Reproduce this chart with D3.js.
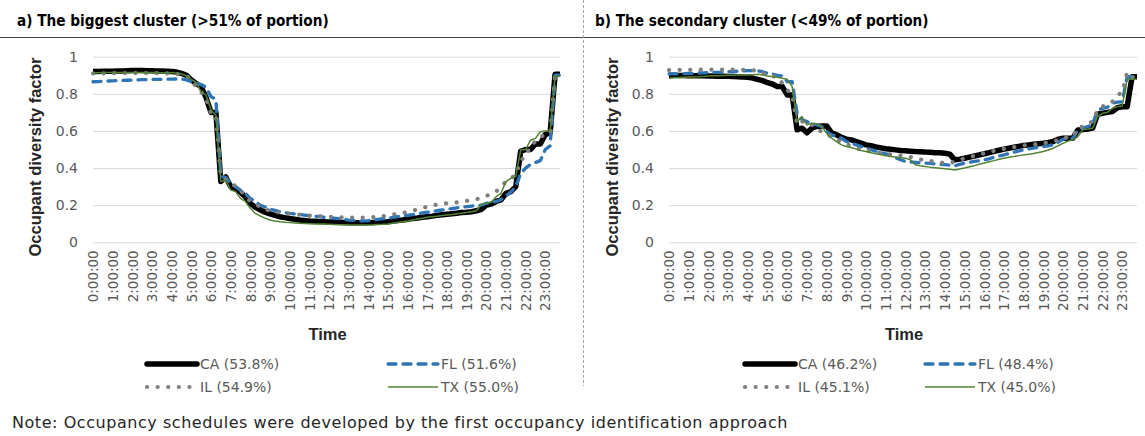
<!DOCTYPE html>
<html>
<head>
<meta charset="utf-8">
<script src="https://cdn.jsdelivr.net/npm/d3@7"></script>
<style>
  body { margin: 0; background: #fff; }
  svg { display: block; }
  .tick text { fill: #595959; }
</style>
</head>
<body>
<svg id="chart" width="1145" height="436"></svg>
<script>
// Hour labels shown on the time axis (one every fourth 15-minute slot)
const hourLabels = ["0:00:00","1:00:00","2:00:00","3:00:00","4:00:00","5:00:00","6:00:00","7:00:00",
  "8:00:00","9:00:00","10:00:00","11:00:00","12:00:00","13:00:00","14:00:00","15:00:00",
  "16:00:00","17:00:00","18:00:00","19:00:00","20:00:00","21:00:00","22:00:00","23:00:00"];
const yTicks = [0, 0.2, 0.4, 0.6, 0.8, 1];

// Occupant diversity factor per 15-minute slot, biggest cluster
const caBig = [0.92,0.92,0.921,0.922, 0.922,0.923,0.923,0.924, 0.925,0.925,0.925,0.924, 0.924,0.923,0.923,0.922,
  0.92,0.917,0.91,0.90, 0.875,0.856,0.838,0.78, 0.70,0.70,0.327,0.352, 0.30,0.29,0.27,0.245,
  0.21,0.19,0.175,0.162, 0.153,0.145,0.138,0.133, 0.128,0.124,0.12,0.118, 0.115,0.114,0.112,0.111,
  0.11,0.109,0.108,0.107, 0.106,0.106,0.105,0.105, 0.106,0.107,0.108,0.109, 0.111,0.114,0.117,0.12,
  0.124,0.128,0.131,0.135, 0.138,0.141,0.145,0.148, 0.151,0.154,0.157,0.16, 0.162,0.165,0.17,0.178,
  0.20,0.206,0.22,0.228, 0.264,0.273,0.30,0.49, 0.50,0.50,0.53,0.53, 0.58,0.59,0.906,0.906];
const flBig = [0.865,0.866,0.868,0.869, 0.87,0.871,0.872,0.873, 0.874,0.875,0.876,0.877, 0.878,0.878,0.878,0.879,
  0.879,0.88,0.88,0.875, 0.865,0.856,0.85,0.835, 0.785,0.77,0.355,0.35, 0.318,0.30,0.28,0.264,
  0.237,0.22,0.20,0.19, 0.178,0.172,0.165,0.16, 0.156,0.153,0.15,0.147, 0.144,0.141,0.138,0.135,
  0.133,0.13,0.127,0.123, 0.12,0.118,0.116,0.115, 0.117,0.12,0.124,0.127, 0.13,0.134,0.138,0.141,
  0.145,0.149,0.154,0.158, 0.162,0.166,0.17,0.174, 0.178,0.182,0.186,0.189, 0.192,0.195,0.198,0.20,
  0.21,0.215,0.22,0.23, 0.25,0.27,0.30,0.37, 0.40,0.42,0.43,0.44, 0.50,0.52,0.90,0.90];
const ilBig = [0.91,0.91,0.91,0.91, 0.911,0.911,0.912,0.912, 0.912,0.912,0.912,0.912, 0.911,0.911,0.91,0.91,
  0.91,0.907,0.905,0.895, 0.878,0.838,0.81,0.775, 0.695,0.686,0.354,0.336, 0.318,0.303,0.282,0.246,
  0.22,0.206,0.192,0.178, 0.17,0.165,0.16,0.156, 0.153,0.151,0.149,0.146, 0.144,0.142,0.141,0.139,
  0.138,0.137,0.135,0.134, 0.133,0.133,0.133,0.133, 0.135,0.136,0.138,0.141, 0.145,0.149,0.153,0.158,
  0.163,0.17,0.178,0.185, 0.192,0.198,0.203,0.207, 0.21,0.213,0.215,0.219, 0.223,0.227,0.232,0.24,
  0.25,0.26,0.273,0.30, 0.327,0.345,0.363,0.443, 0.46,0.524,0.542,0.57, 0.578,0.587,0.905,0.905];
const txBig = [0.914,0.914,0.915,0.915, 0.915,0.915,0.915,0.915, 0.915,0.915,0.915,0.915, 0.915,0.915,0.914,0.914,
  0.914,0.912,0.907,0.897, 0.878,0.86,0.81,0.794, 0.713,0.686,0.327,0.336, 0.282,0.273,0.237,0.22,
  0.183,0.156,0.142,0.13, 0.12,0.115,0.111,0.108, 0.106,0.104,0.102,0.101, 0.10,0.099,0.098,0.098,
  0.097,0.096,0.095,0.094, 0.093,0.093,0.093,0.093, 0.093,0.094,0.096,0.097, 0.099,0.103,0.107,0.111,
  0.115,0.12,0.125,0.13, 0.135,0.138,0.141,0.144, 0.147,0.15,0.154,0.157, 0.16,0.165,0.17,0.205,
  0.21,0.215,0.246,0.264, 0.327,0.345,0.354,0.497, 0.50,0.55,0.56,0.596, 0.60,0.60,0.895,0.895];

// Occupant diversity factor per 15-minute slot, secondary cluster
const caSec = [0.90,0.90,0.899,0.899, 0.898,0.898,0.897,0.897, 0.896,0.896,0.895,0.895, 0.894,0.893,0.892,0.891,
  0.889,0.885,0.878,0.871, 0.86,0.853,0.839,0.839, 0.794,0.794,0.606,0.615, 0.59,0.615,0.624,0.627,
  0.627,0.59,0.579,0.566, 0.556,0.552,0.543,0.534, 0.525,0.52,0.514,0.509, 0.504,0.501,0.498,0.495,
  0.493,0.491,0.489,0.488, 0.486,0.485,0.483,0.482, 0.48,0.475,0.444,0.448, 0.453,0.459,0.465,0.471,
  0.477,0.483,0.49,0.496, 0.502,0.507,0.512,0.517, 0.522,0.525,0.528,0.531, 0.534,0.538,0.543,0.556,
  0.561,0.56,0.561,0.605, 0.607,0.61,0.615,0.69, 0.695,0.70,0.705,0.725, 0.73,0.73,0.892,0.892];
const flSec = [0.907,0.908,0.908,0.909, 0.91,0.911,0.912,0.913, 0.914,0.915,0.916,0.917, 0.919,0.92,0.922,0.923,
  0.925,0.925,0.924,0.919, 0.91,0.907,0.90,0.896, 0.866,0.866,0.695,0.66, 0.65,0.64,0.633,0.624,
  0.597,0.579,0.57,0.561, 0.543,0.534,0.525,0.516, 0.507,0.499,0.491,0.484, 0.477,0.47,0.455,0.445,
  0.435,0.433,0.431,0.429, 0.427,0.425,0.422,0.42, 0.418,0.415,0.412,0.42, 0.427,0.431,0.436,0.44,
  0.444,0.45,0.458,0.465, 0.471,0.478,0.485,0.492, 0.498,0.503,0.508,0.512, 0.516,0.52,0.525,0.54,
  0.556,0.558,0.561,0.606, 0.615,0.624,0.633,0.713, 0.722,0.728,0.75,0.755, 0.757,0.892,0.892,0.89];
const ilSec = [0.928,0.928,0.929,0.929, 0.929,0.93,0.93,0.93, 0.93,0.93,0.93,0.93, 0.93,0.93,0.929,0.929,
  0.928,0.927,0.925,0.914, 0.90,0.895,0.892,0.857, 0.821,0.794,0.633,0.65, 0.65,0.633,0.606,0.597,
  0.588,0.566,0.552,0.543, 0.529,0.518,0.507,0.501, 0.495,0.49,0.486,0.481, 0.477,0.474,0.471,0.468,
  0.466,0.46,0.453,0.447, 0.441,0.438,0.434,0.43, 0.427,0.427,0.435,0.444, 0.453,0.46,0.466,0.473,
  0.48,0.487,0.493,0.499, 0.504,0.509,0.513,0.518, 0.522,0.525,0.527,0.531, 0.534,0.538,0.543,0.552,
  0.561,0.566,0.57,0.62, 0.622,0.642,0.65,0.713, 0.731,0.75,0.758,0.794, 0.806,0.917,0.89,0.89];
const txSec = [0.884,0.886,0.888,0.889, 0.89,0.891,0.892,0.894, 0.896,0.897,0.898,0.899, 0.90,0.90,0.901,0.901,
  0.901,0.903,0.905,0.902, 0.896,0.892,0.889,0.884, 0.878,0.839,0.65,0.677, 0.633,0.642,0.638,0.624,
  0.588,0.561,0.543,0.525, 0.516,0.511,0.502,0.495, 0.489,0.483,0.477,0.472, 0.466,0.462,0.459,0.456,
  0.453,0.444,0.418,0.413, 0.409,0.405,0.402,0.399, 0.396,0.393,0.39,0.395, 0.40,0.407,0.413,0.42,
  0.427,0.434,0.44,0.447, 0.453,0.458,0.462,0.467, 0.471,0.474,0.478,0.484, 0.489,0.497,0.507,0.52,
  0.534,0.545,0.552,0.57, 0.606,0.61,0.615,0.677, 0.695,0.70,0.722,0.731, 0.735,0.878,0.878,0.878];

const bigNames = ["CA (53.8%)", "FL (51.6%)", "IL (54.9%)", "TX (55.0%)"];
const secNames = ["CA (46.2%)", "FL (48.4%)", "IL (45.1%)", "TX (45.0%)"];

// Line style per state
const styles = [
  { stroke: "#000000", width: 5.5, dash: null, cap: "butt" },
  { stroke: "#2E75B6", width: 3.3, dash: "8,7", cap: "round" },
  { stroke: "#7F7F7F", width: 4.2, dash: "0.1,10.5", cap: "round" },
  { stroke: "#548235", width: 1.5, dash: null, cap: "butt" }
];

const panels = [
  { title: "a) The biggest cluster (>51% of portion)", titleX: 17, x0: 93, x1: 560, yTitleX: 41,
    legendX: [147, 388], names: bigNames, values: [caBig, flBig, ilBig, txBig] },
  { title: "b) The secondary cluster (<49% of portion)", titleX: 595, x0: 669, x1: 1137, yTitleX: 618,
    legendX: [745, 925], names: secNames, values: [caSec, flSec, ilSec, txSec] }
];

const svg = d3.select("#chart");
const yTop = 56.7, yBottom = 242.3;
const tickFont = "DejaVu Sans, sans-serif";
const labelFont = "Liberation Sans, Arial, sans-serif";

// Header rule and panel divider
svg.append("line").attr("x1", 0).attr("x2", 1145).attr("y1", 37.5).attr("y2", 37.5)
  .attr("stroke", "#404040").attr("stroke-width", 1);
svg.append("line").attr("x1", 583.5).attr("x2", 583.5).attr("y1", 0).attr("y2", 386)
  .attr("stroke", "#A6A6A6").attr("stroke-width", 1).attr("stroke-dasharray", "3,2");

panels.forEach(p => {
  const slots = d3.range(p.values[0].length);
  const x = d3.scalePoint().domain(slots).range([p.x0, p.x1]);
  const y = d3.scaleLinear().domain([0, 1]).range([yBottom, yTop]);

  svg.append("text").attr("x", p.titleX).attr("y", 26)
    .attr("font-family", "Liberation Sans Narrow, DejaVu Sans Condensed, Arial, sans-serif")
    .attr("font-weight", "bold").attr("font-size", 15.2).attr("fill", "#000")
    .text(p.title);

  // Horizontal gridlines with value labels
  const gy = svg.append("g").attr("transform", `translate(${p.x0},0)`)
    .call(d3.axisLeft(y).tickValues(yTicks).tickFormat(d3.format("~g"))
      .tickSize(-(p.x1 - p.x0)).tickPadding(15));
  gy.select(".domain").remove();
  gy.selectAll(".tick line").attr("stroke", "#D9D9D9").attr("stroke-width", 1);
  gy.selectAll(".tick text").attr("font-family", tickFont).attr("font-size", 14);

  // Hour labels, rotated
  const gx = svg.append("g").attr("transform", `translate(0,${yBottom})`)
    .call(d3.axisBottom(x).tickValues(slots.filter(i => i % 4 === 0))
      .tickFormat(i => hourLabels[i / 4]).tickSize(0));
  gx.select(".domain").remove();
  gx.selectAll(".tick text")
    .attr("font-family", tickFont).attr("font-size", 13.5)
    .attr("transform", "rotate(-90)")
    .attr("x", -8).attr("y", 0).attr("dy", "0.35em")
    .attr("text-anchor", "end");

  // Axis titles
  svg.append("text").attr("transform", `translate(${p.yTitleX},157) rotate(-90)`)
    .attr("text-anchor", "middle").attr("font-family", labelFont).attr("font-weight", "bold")
    .attr("font-size", 16.5).attr("fill", "#262626").text("Occupant diversity factor");
  svg.append("text").attr("x", (p.x0 + p.x1) / 2 + 1).attr("y", 340)
    .attr("text-anchor", "middle").attr("font-family", labelFont).attr("font-weight", "bold")
    .attr("font-size", 16.5).attr("fill", "#262626").text("Time");

  // Series lines
  const line = d3.line().x((d, i) => x(i)).y(d => y(d));
  p.values.forEach((vals, k) => {
    const s = styles[k];
    svg.append("path").datum(vals)
      .attr("d", line).attr("fill", "none")
      .attr("stroke", s.stroke).attr("stroke-width", s.width)
      .attr("stroke-linecap", s.cap).attr("stroke-linejoin", "round")
      .attr("stroke-dasharray", s.dash);
  });

  // Legend (two rows by two columns)
  p.names.forEach((name, k) => {
    const s = styles[k];
    const lx = p.legendX[k % 2];
    const ly = k < 2 ? 364 : 387;
    svg.append("line").attr("x1", lx).attr("x2", lx + 50).attr("y1", ly).attr("y2", ly)
      .attr("stroke", s.stroke).attr("stroke-width", s.width)
      .attr("stroke-linecap", k === 0 ? "round" : s.cap)
      .attr("stroke-dasharray", s.dash);
    svg.append("text").attr("x", lx + 53).attr("y", ly).attr("dy", "0.35em")
      .attr("font-family", tickFont).attr("font-size", 14).attr("fill", "#595959")
      .text(name);
  });
});

svg.append("text").attr("x", 12).attr("y", 428)
  .attr("font-family", tickFont).attr("font-size", 16).attr("letter-spacing", 0.55)
  .attr("fill", "#262626")
  .text("Note: Occupancy schedules were developed by the first occupancy identification approach");
</script>
</body>
</html>
